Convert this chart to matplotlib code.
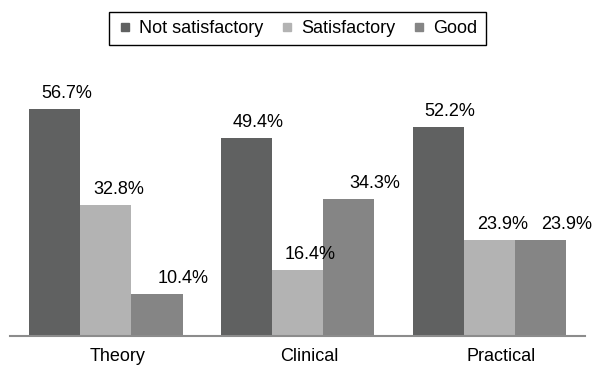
import numpy as np
import matplotlib
matplotlib.use("Agg")
import matplotlib.pyplot as plt
from matplotlib.lines import Line2D
from matplotlib.transforms import ScaledTranslation

plt.rcParams["font.family"] = ["Liberation Sans", "DejaVu Sans"]

categories = ["Theory", "Clinical", "Practical"]
series_names = ["Not satisfactory", "Satisfactory", "Good"]
not_satisfactory = [56.7, 49.4, 52.2]
satisfactory = [32.8, 16.4, 23.9]
good = [10.4, 34.3, 23.9]
colors = ["#606161", "#b3b3b3", "#858585"]

fig = plt.figure(figsize=(5.95, 3.65), dpi=100)
ax = fig.add_axes([10 / 595, 1 - 336 / 365, 575 / 595, 240 / 365])

x = np.arange(len(categories))
width = 0.8 / 3
shift = ScaledTranslation(12 / 100, 0, fig.dpi_scale_trans)
# value labels sit a bit right of the bar centre, the last series further
label_dx = [8.6, 9.4, 18.7]

for i, (vals, col) in enumerate(zip([not_satisfactory, satisfactory, good], colors)):
    pos = x + (i - 1) * width
    ax.bar(pos, vals, width, color=col, linewidth=0)
    for p, v in zip(pos, vals):
        ax.annotate(f"{v}%", (p, v), xytext=(label_dx[i], 8), textcoords="offset points",
                    ha="center", va="baseline", fontsize=13, color="black")

ax.set_xlim(-0.5, 2.5)
ax.set_ylim(0, 60)
ax.set_yticks([])
ax.set_xticks(x)
ax.set_xticklabels(categories, fontsize=13)
ax.tick_params(axis="x", length=0, pad=8.5)
for lbl in ax.get_xticklabels():
    lbl.set_transform(lbl.get_transform() + shift)

for s in ["top", "left", "right"]:
    ax.spines[s].set_visible(False)
ax.spines["bottom"].set_color("#8c8c8c")
ax.spines["bottom"].set_linewidth(1.5)

handles = [Line2D([], [], marker="s", linestyle="none", markersize=6,
                  color=c) for c in colors]
leg = fig.legend(handles, series_names, loc="center", bbox_to_anchor=(0.5, 1 - 28.5 / 365),
                 ncol=3, fontsize=13, frameon=True, fancybox=False, framealpha=1,
                 edgecolor="black", handlelength=0.8, handletextpad=0.4,
                 columnspacing=0.9, borderpad=0.47)
leg.get_frame().set_linewidth(1.0)

fig.savefig("out.png", dpi=100)
